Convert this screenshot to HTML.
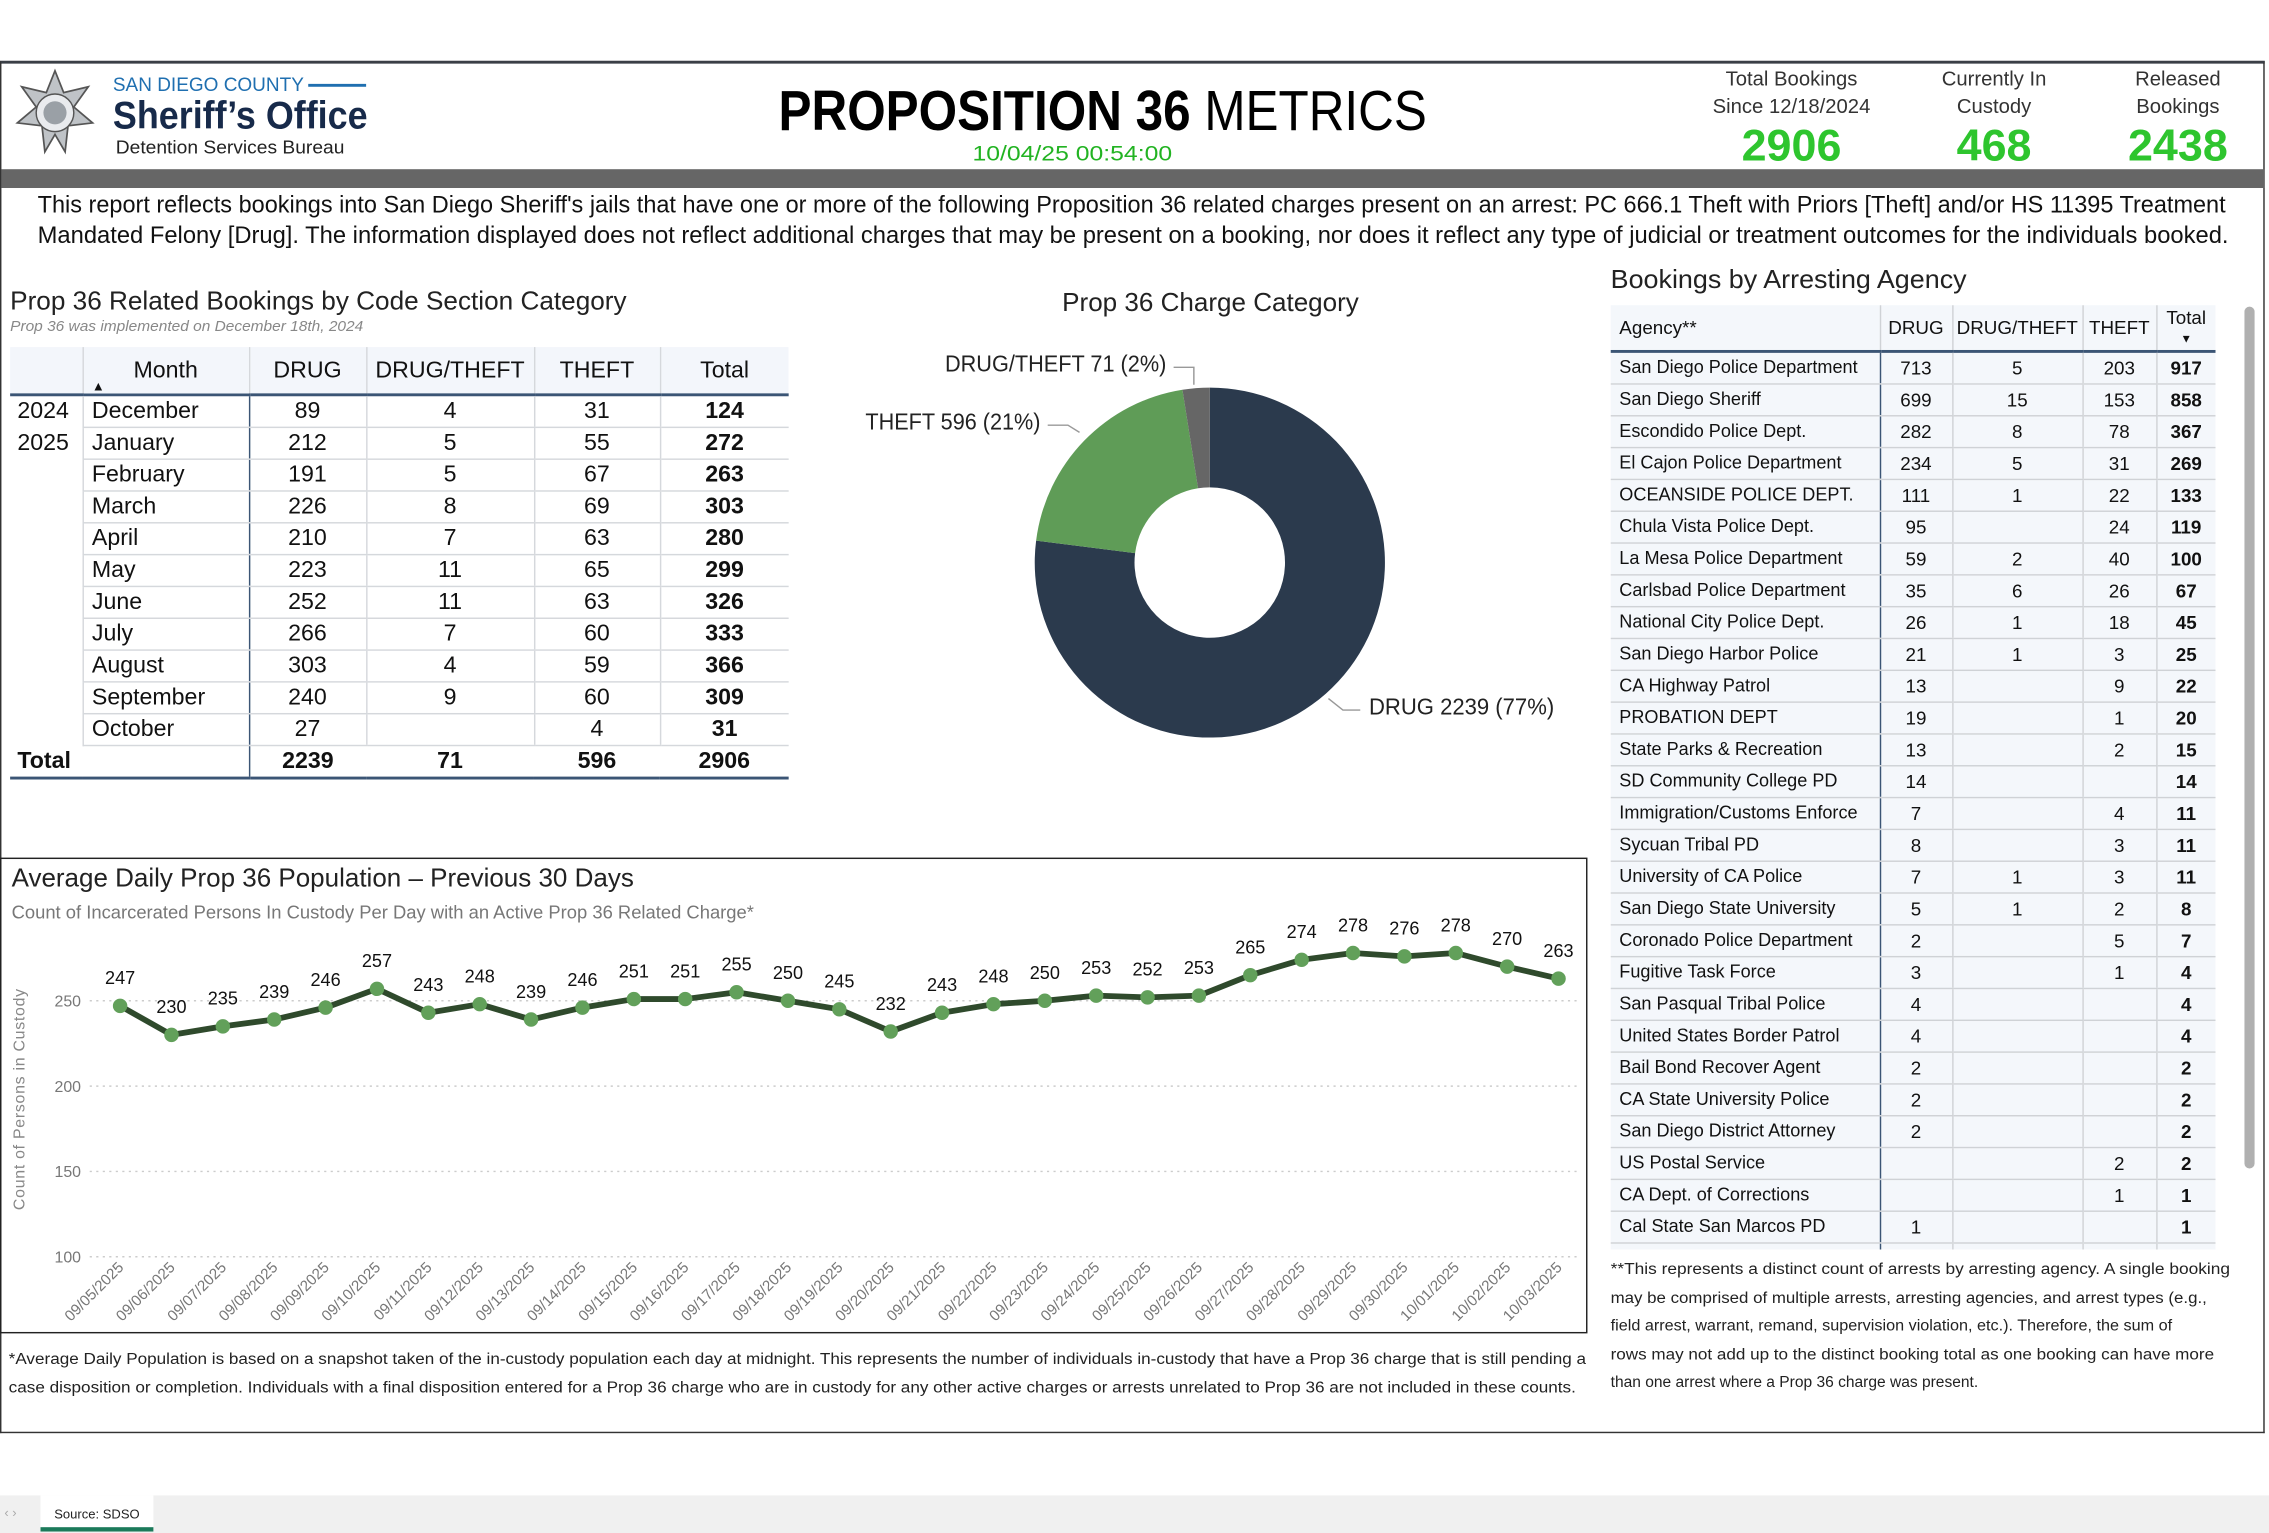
<!DOCTYPE html>
<html><head><meta charset="utf-8">
<style>
html,body{margin:0;padding:0;background:#fff;}
body{width:2269px;height:1533px;overflow:hidden;position:relative;}
#s{position:absolute;left:0;top:0;width:1568px;height:1060px;transform-origin:0 0;transform:scale(1.4471,1.4462);font-family:"Liberation Sans",sans-serif;color:#111;}
.a{position:absolute;white-space:nowrap;}
.c{text-align:center;}
.fit{position:absolute;white-space:nowrap;}
.fit>span{display:inline-block;transform-origin:0 0;}
table{border-collapse:collapse;table-layout:fixed;}
#lt{position:absolute;left:7px;top:240px;font-size:16px;width:538px;}
#lt td,#lt th{padding:0;height:21px;line-height:21px;border-bottom:1px solid #d5d8dc;overflow:hidden;white-space:nowrap;}
#lt th{font-weight:normal;height:32px;background:#f3f6fb;border-bottom:2px solid #3b5575;vertical-align:middle;}
#ag{position:absolute;left:0;top:0;font-size:13px;width:418px;}
#ag td,#ag th{padding:0;height:21px;line-height:21px;border-bottom:1px solid #cfd2d6;background:#f4f7fb;overflow:hidden;white-space:nowrap;}
#ag th{font-weight:normal;height:29px;border-bottom:2px solid #3b5575;}
</style></head><body>
<div id="s">
<div class="a" style="left:0;top:42px;width:1565px;height:949px;border:1px solid #333;border-top:2px solid #3a3f46;box-sizing:border-box;"></div>
<svg class="a" style="left:9px;top:47px" width="58" height="60" viewBox="0 0 58 60">
<polygon points="29,2 35,17 52,13 42,27 55,38 38,40 36,58 29,46 22,58 20,40 3,38 16,27 6,13 23,17" fill="#bfc3c7" stroke="#555" stroke-width="1.2"/>
<circle cx="29" cy="31" r="13" fill="#e9ebee" stroke="#555" stroke-width="1"/>
<circle cx="29" cy="31" r="8" fill="#9aa0a6"/>
</svg>
<div class="fit" style="left:78px;top:51px;width:132px;font-size:13.5px;color:#1f6fb0;"><span>SAN DIEGO COUNTY</span></div>
<div class="a" style="left:213px;top:58px;width:40px;height:2px;background:#1f6fb0;"></div>
<div class="fit" style="left:78px;top:65px;width:176px;font-size:27px;font-weight:bold;color:#172a4a;"><span>Sheriff’s Office</span></div>
<div class="fit" style="left:80px;top:95px;width:158px;font-size:12.5px;color:#222;"><span>Detention Services Bureau</span></div>
<div class="fit" style="left:538px;top:56px;width:448px;font-size:39px;color:#000;"><span><b>PROPOSITION 36</b> METRICS</span></div>
<div class="fit" style="left:672px;top:98px;width:138px;font-size:15px;color:#22b322;"><span>10/04/25 00:54:00</span></div>
<div class="a c" style="left:1168px;top:45px;width:140px;font-size:14px;line-height:19px;color:#333;">Total Bookings<br>Since 12/18/2024</div>
<div class="a c" style="left:1318px;top:45px;width:120px;font-size:14px;line-height:19px;color:#333;">Currently In<br>Custody</div>
<div class="a c" style="left:1455px;top:45px;width:100px;font-size:14px;line-height:19px;color:#333;">Released<br>Bookings</div>
<div class="a c" style="left:1168px;top:83px;width:140px;font-size:31px;font-weight:bold;color:#2ec52e;">2906</div>
<div class="a c" style="left:1318px;top:83px;width:120px;font-size:31px;font-weight:bold;color:#2ec52e;">468</div>
<div class="a c" style="left:1455px;top:83px;width:100px;font-size:31px;font-weight:bold;color:#2ec52e;">2438</div>
<div class="a" style="left:1px;top:117px;width:1564px;height:13px;background:#666;"></div>
<div class="fit" style="left:26px;top:132px;width:1512px;font-size:16.5px;line-height:21px;color:#111;"><span>This report reflects bookings into San Diego Sheriff's jails that have one or more of the following Proposition 36 related charges present on an arrest: PC 666.1 Theft with Priors [Theft] and/or HS 11395 Treatment</span></div>
<div class="fit" style="left:26px;top:153px;width:1514px;font-size:16.5px;line-height:21px;color:#111;"><span>Mandated Felony [Drug]. The information displayed does not reflect additional charges that may be present on a booking, nor does it reflect any type of judicial or treatment outcomes for the individuals booked.</span></div>

<div class="fit" style="left:7px;top:198px;width:426px;font-size:18px;color:#222;"><span>Prop 36 Related Bookings by Code Section Category</span></div>
<div class="fit" style="left:7px;top:221px;width:244px;font-size:10px;font-style:italic;color:#888;"><span>Prop 36 was implemented on December 18th, 2024</span></div>
<table id="lt">
<colgroup><col style="width:50px"><col style="width:115px"><col style="width:81px"><col style="width:116px"><col style="width:87px"><col style="width:89px"></colgroup>
<tr><th></th><th style="border-left:1px solid #d5d8dc;position:relative;">Month<span style="position:absolute;left:6px;bottom:0;font-size:9px;line-height:9px;">▲</span></th><th style="border-left:1px solid #d5d8dc;">DRUG</th><th style="border-left:1px solid #d5d8dc;">DRUG/THEFT</th><th style="border-left:1px solid #d5d8dc;">THEFT</th><th style="border-left:1px solid #d5d8dc;">Total</th></tr>
</table>

<div class="fit" style="left:734px;top:199px;width:205px;font-size:18px;color:#222;"><span>Prop 36 Charge Category</span></div>
<svg class="a" style="left:0;top:0" width="1100" height="560">
<path d="M836 268 A121 121 0 1 1 716.0 373.8 L784.4 382.5 A52 52 0 1 0 836 337 Z" fill="#2b3a4d"/>
<path d="M716.0 373.8 A121 121 0 0 1 817.1 269.5 L827.9 337.6 A52 52 0 0 0 784.4 382.5 Z" fill="#5f9c57"/>
<path d="M817.1 269.5 A121 121 0 0 1 836 268 L836 337 A52 52 0 0 0 827.9 337.6 Z" fill="#666"/>
<polyline points="811,254 825,254 825,266" fill="none" stroke="#999" stroke-width="1"/>
<polyline points="724,294 738,294 746,299" fill="none" stroke="#999" stroke-width="1"/>
<polyline points="918,483 928,491 940,491" fill="none" stroke="#999" stroke-width="1"/>
</svg>
<div class="fit" style="left:653px;top:244px;width:153px;font-size:16px;color:#222;"><span>DRUG/THEFT 71 (2%)</span></div>
<div class="fit" style="left:598px;top:284px;width:121px;font-size:16px;color:#222;"><span>THEFT 596 (21%)</span></div>
<div class="fit" style="left:946px;top:481px;width:128px;font-size:16px;color:#222;"><span>DRUG 2239 (77%)</span></div>

<div class="fit" style="left:1113px;top:183px;width:246px;font-size:18px;color:#222;"><span>Bookings by Arresting Agency</span></div>
<div class="a" style="left:1113px;top:211px;width:420px;height:653px;overflow:hidden;">
<table id="ag">
<colgroup><col style="width:186px"><col style="width:50px"><col style="width:90px"><col style="width:51px"><col style="width:41px"></colgroup>
<tr><th style="text-align:left;padding-left:6px;">Agency**</th><th style="border-left:1px solid #cfd2d6;">DRUG</th><th style="border-left:1px solid #cfd2d6;">DRUG/THEFT</th><th style="border-left:1px solid #cfd2d6;">THEFT</th><th style="border-left:1px solid #cfd2d6;line-height:13px;vertical-align:top;padding-top:2px;">Total<br><span style="font-size:8px">▼</span></th></tr>
</table>
</div>
<div class="a" style="left:1551px;top:212px;width:7px;height:596px;background:#b0b0b0;border-radius:4px;"></div>
<div class="fit" style="left:1113px;top:869px;width:428px;font-size:11px;line-height:19.5px;color:#222;"><span>**This represents a distinct count of arrests by arresting agency. A single booking</span></div>
<div class="fit" style="left:1113px;top:888.5px;width:412px;font-size:11px;line-height:19.5px;color:#222;"><span>may be comprised of multiple arrests, arresting agencies, and arrest types (e.g.,</span></div>
<div class="fit" style="left:1113px;top:908px;width:388px;font-size:11px;line-height:19.5px;color:#222;"><span>field arrest, warrant, remand, supervision violation, etc.). Therefore, the sum of</span></div>
<div class="fit" style="left:1113px;top:927.5px;width:417px;font-size:11px;line-height:19.5px;color:#222;"><span>rows may not add up to the distinct booking total as one booking can have more</span></div>
<div class="fit" style="left:1113px;top:947px;width:254px;font-size:11px;line-height:19.5px;color:#222;"><span>than one arrest where a Prop 36 charge was present.</span></div>

<div class="a" style="left:0;top:593px;width:1097px;height:329px;border:1.5px solid #222;box-sizing:border-box;"></div>
<div class="fit" style="left:8px;top:597px;width:430px;font-size:18px;color:#222;"><span>Average Daily Prop 36 Population – Previous 30 Days</span></div>
<div class="fit" style="left:8px;top:623px;width:513px;font-size:13px;color:#777;"><span>Count of Incarcerated Persons In Custody Per Day with an Active Prop 36 Related Charge*</span></div>
<svg class="a" id="lc" style="left:0;top:0" width="1100" height="930"></svg>
<div class="fit" style="left:6px;top:931px;width:1090px;font-size:11px;line-height:19.5px;color:#222;"><span>*Average Daily Population is based on a snapshot taken of the in-custody population each day at midnight. This represents the number of individuals in-custody that have a Prop 36 charge that is still pending a</span></div>
<div class="fit" style="left:6px;top:950.5px;width:1083px;font-size:11px;line-height:19.5px;color:#222;"><span>case disposition or completion. Individuals with a final disposition entered for a Prop 36 charge who are in custody for any other active charges or arrests unrelated to Prop 36 are not included in these counts.</span></div>

<div class="a" style="left:0;top:1034px;width:1568px;height:26px;background:#f0f0f0;"></div>
<div class="a" style="left:3px;top:1041px;font-size:9px;color:#aaa;">‹ ›</div>
<div class="a c" style="left:28px;top:1034px;width:78px;height:22px;background:#fff;border-bottom:3px solid #1b7a5a;font-size:9px;line-height:26px;color:#222;">Source: SDSO</div>
</div>
<script>
var rows=[["2024","December",89,4,31,124],["2025","January",212,5,55,272],["","February",191,5,67,263],["","March",226,8,69,303],["","April",210,7,63,280],["","May",223,11,65,299],["","June",252,11,63,326],["","July",266,7,60,333],["","August",303,4,59,366],["","September",240,9,60,309],["","October",27,"",4,31]];
var t=document.getElementById('lt');
rows.forEach(function(r){var tr=t.insertRow();
 var c0=tr.insertCell();c0.textContent=r[0];c0.style.cssText="text-align:left;padding-left:5px;border-bottom:none;";
 var c1=tr.insertCell();c1.textContent=r[1];c1.style.cssText="text-align:left;padding-left:6px;border-left:1px solid #d5d8dc;";
 for(var i=2;i<6;i++){var c=tr.insertCell();c.textContent=r[i];c.style.cssText="text-align:center;border-left:1px solid "+(i==2?"#3b5575":"#d5d8dc")+";"+(i==5?"font-weight:bold;":"");}
});
var tr=t.insertRow();
["Total","",2239,71,596,2906].forEach(function(v,i){var c=tr.insertCell();c.textContent=v;c.style.cssText="font-weight:bold;border-bottom:2px solid #3b5575;"+(i==0?"text-align:left;padding-left:5px;":"text-align:center;")+(i==2?"border-left:1px solid #3b5575;":"");});
var ag=[["San Diego Police Department",713,5,203,917],["San Diego Sheriff",699,15,153,858],["Escondido Police Dept.",282,8,78,367],["El Cajon Police Department",234,5,31,269],["OCEANSIDE POLICE DEPT.",111,1,22,133],["Chula Vista Police Dept.",95,"",24,119],["La Mesa Police Department",59,2,40,100],["Carlsbad Police Department",35,6,26,67],["National City Police Dept.",26,1,18,45],["San Diego Harbor Police",21,1,3,25],["CA Highway Patrol",13,"",9,22],["PROBATION DEPT",19,"",1,20],["State Parks & Recreation",13,"",2,15],["SD Community College PD",14,"","",14],["Immigration/Customs Enforce",7,"",4,11],["Sycuan Tribal PD",8,"",3,11],["University of CA Police",7,1,3,11],["San Diego State University",5,1,2,8],["Coronado Police Department",2,"",5,7],["Fugitive Task Force",3,"",1,4],["San Pasqual Tribal Police",4,"","",4],["United States Border Patrol",4,"","",4],["Bail Bond Recover Agent",2,"","",2],["CA State University Police",2,"","",2],["San Diego District Attorney",2,"","",2],["US Postal Service","","",2,2],["CA Dept. of Corrections","","",1,1],["Cal State San Marcos PD",1,"","",1],["California State Parole",1,"","",1]];
var g=document.getElementById('ag');
ag.forEach(function(r){var tr=g.insertRow();r.forEach(function(v,i){var c=tr.insertCell();c.textContent=v;
 c.style.cssText=(i==0?"text-align:left;padding-left:6px;font-size:12.5px;":"text-align:center;border-left:1px solid "+(i==1?"#3b5575":"#cfd2d6")+";")+(i==4?"font-weight:bold;":"");});});
var d=[247,230,235,239,246,257,243,248,239,246,251,251,255,250,245,232,243,248,250,253,252,253,265,274,278,276,278,270,263];
var s='';
function Y(v){return 692-(v-250)*1.18;}
[[250,692],[200,751],[150,810],[100,869]].forEach(function(a){s+='<line x1="62" x2="1092" y1="'+a[1]+'" y2="'+a[1]+'" stroke="#ccc" stroke-dasharray="1.5,3"/><text x="56" y="'+(a[1]+4)+'" font-size="11" fill="#777" text-anchor="end">'+a[0]+'</text>';});
s+='<text transform="translate(17,760) rotate(-90)" font-size="11" fill="#888" text-anchor="middle" letter-spacing="0.5">Count of Persons in Custody</text>';
var pts=d.map(function(v,i){return [83+i*35.5,Y(v)];});
s+='<polyline points="'+pts.map(function(p){return p.join(',');}).join(' ')+'" fill="none" stroke="#2f4a2c" stroke-width="4" stroke-linejoin="round"/>';
pts.forEach(function(p,i){s+='<circle cx="'+p[0]+'" cy="'+p[1]+'" r="5" fill="#62a05a"/>';
 s+='<text x="'+p[0]+'" y="'+(p[1]-15)+'" font-size="12.5" fill="#111" text-anchor="middle">'+d[i]+'</text>';
 var dt=new Date(2025,8,5+i);var mm=('0'+(dt.getMonth()+1)).slice(-2),dd=('0'+dt.getDate()).slice(-2);
 s+='<text transform="translate('+(p[0]+3)+',877) rotate(-45)" font-size="10.5" fill="#777" text-anchor="end">'+mm+'/'+dd+'/2025</text>';});
document.getElementById('lc').innerHTML=s;
document.querySelectorAll('.fit').forEach(function(e){var sp=e.firstElementChild;var w=parseFloat(e.style.width);var nw=sp.getBoundingClientRect().width/1.4471;if(nw>0)sp.style.transform='scaleX('+(w/nw)+')';});
</script>
</body></html>
